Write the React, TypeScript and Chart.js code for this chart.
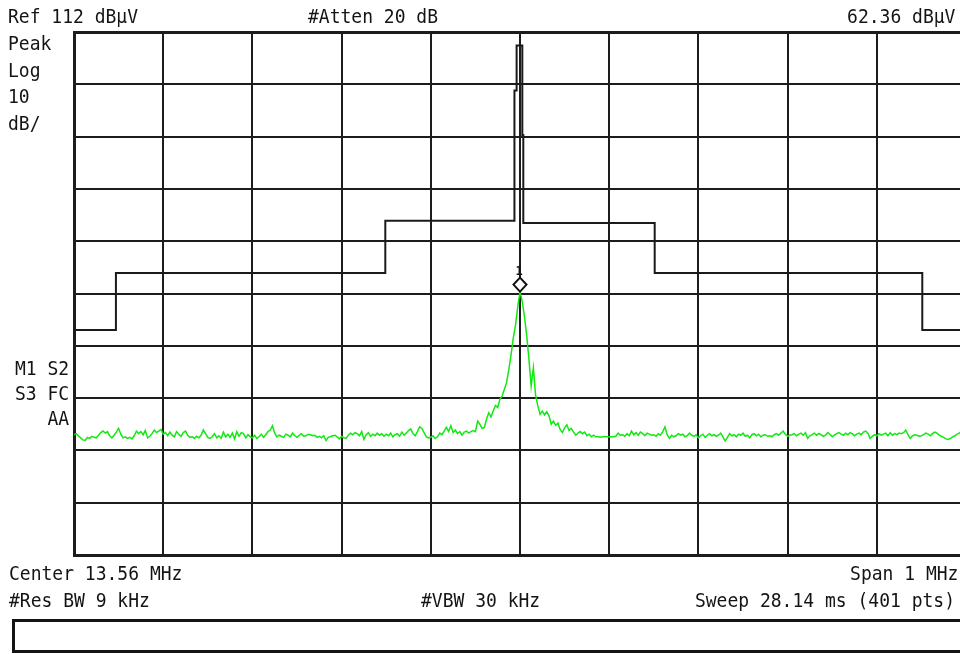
import React, { useEffect, useRef } from "react";
import { Chart, registerables } from "chart.js";

Chart.register(...registerables);

// ---- analyzer settings ----
const centerMHz = 13.56;
const spanMHz = 1;
const refLevelDb = 112;
const dbPerDiv = 10;
const divisions = 10;
const sweepPoints = 401;

// ---- measured trace (dBµV), 401 sweep points ----
const traceDb = [
  35.0, 35.2, 34.8, 34.4, 34.0, 33.9, 34.5, 34.3, 34.7, 34.5, 34.4, 34.9, 35.4, 35.7, 35.3, 35.6, 34.8, 34.4, 34.9, 35.5,
  36.2, 35.1, 34.4, 34.6, 34.3, 34.5, 34.2, 34.8, 35.7, 35.2, 35.6, 35.0, 35.8, 34.4, 34.7, 35.2, 35.9, 35.4, 35.7, 36.0,
  35.1, 35.4, 34.8, 35.5, 34.9, 34.6, 35.6, 35.1, 34.7, 35.4, 35.7, 34.9, 34.5, 34.6, 34.3, 34.7, 34.4, 34.9, 35.9, 35.2,
  34.5, 34.3, 34.6, 35.2, 34.4, 34.8, 34.3, 35.5, 34.6, 35.1, 34.5, 35.3, 34.2, 35.6, 34.7, 35.4, 35.2, 34.4, 35.0, 34.6,
  34.4, 34.9, 34.3, 34.6, 35.1, 34.5, 35.0, 35.6, 35.9, 36.7, 35.3, 34.6, 34.9, 34.7, 34.5, 35.1, 34.9, 34.6, 35.3, 34.8,
  34.5, 34.9, 35.2, 34.7, 34.8, 35.1, 35.0, 34.8, 34.9, 34.5, 34.7, 34.4, 34.8, 33.9, 34.5, 34.6, 34.8, 34.9, 34.6, 34.2,
  34.7, 34.4, 34.3, 34.9, 35.3, 35.0, 35.4, 35.2, 34.8, 35.6, 34.1, 35.0, 35.4, 34.7, 35.1, 34.8, 35.3, 34.9, 35.2, 34.7,
  35.1, 34.8, 35.3, 34.6, 35.0, 35.2, 34.7, 35.5, 34.9, 35.3, 35.8, 36.1, 35.2, 34.8, 35.6, 36.5, 36.2, 35.4, 34.6, 34.4,
  34.5, 34.8, 34.3, 34.6, 35.3, 35.0, 35.7, 36.4, 35.6, 36.7, 35.4, 35.9, 35.2, 35.6, 34.9, 35.5, 35.7, 35.3, 35.6, 35.8,
  35.6, 37.6, 37.0, 36.2, 36.4, 38.0, 39.2, 38.4, 39.6, 40.6, 40.2, 41.8, 42.4, 43.7, 45.0, 47.5, 50.3, 53.5, 56.0, 59.5, 62.36,
  60.5, 57.6, 54.0, 49.5, 44.3, 47.8, 42.5, 40.5, 38.9, 39.5, 38.8, 39.4, 38.6, 37.0, 37.6, 36.8, 37.2, 36.0, 35.4, 36.3,
  36.9, 35.8, 36.2, 35.5, 34.9, 35.3, 35.6, 35.2, 35.5, 34.8, 35.1, 34.6, 34.9, 34.6, 34.6, 34.5, 34.6, 34.6, 34.6, 34.6,
  34.6, 34.6, 34.7, 35.3, 34.9, 35.0, 34.7, 35.2, 34.8, 35.7, 35.0, 35.4, 34.9, 35.5, 35.2, 34.8, 35.3, 35.1, 34.9, 35.0,
  34.7, 35.2, 34.9, 35.6, 36.5, 35.0, 34.3, 34.9, 34.6, 34.8, 35.2, 34.9, 35.1, 34.6, 34.8, 35.3, 34.9, 34.7, 35.0, 34.4,
  34.8, 35.1, 34.5, 34.9, 35.2, 34.8, 35.0, 34.7, 34.9, 35.3, 34.6, 33.8, 34.5, 35.2, 34.8, 35.0, 34.6, 35.1, 34.9, 35.3,
  34.7, 34.9, 34.4, 35.0, 35.2, 34.8, 35.1, 34.6, 34.9, 35.0, 34.7, 34.8, 34.6, 35.0, 35.2, 34.9, 35.3, 35.7, 35.1, 34.7,
  34.9, 35.0, 35.2, 34.8, 35.1, 35.3, 34.9, 35.4, 34.3, 34.8, 35.0, 35.3, 34.9, 35.2, 35.0, 34.7, 34.9, 35.4, 35.1, 34.6,
  34.9, 35.2, 35.4, 35.1, 34.9, 35.3, 35.0, 35.4, 35.2, 34.8, 35.1, 35.3, 35.0, 35.5, 35.7, 35.3, 34.3, 34.7, 35.0, 34.8,
  35.2, 34.9, 35.1, 35.3, 34.8, 35.4, 34.9, 35.2, 35.0, 35.3, 35.2, 35.4, 35.9, 35.0, 34.3, 34.8, 35.0, 34.9, 34.7, 34.8,
  35.0, 35.3, 35.1, 34.8, 35.2, 35.5, 35.3, 34.9, 34.7, 34.5, 34.2, 34.1, 34.3, 34.6, 34.8, 35.1, 35.3, 35.7, 35.5, 35.3, 35.6,
];

// ---- limit line (MHz, dBµV) ----
const limitMHz = [
  13.06, 13.107, 13.107, 13.409, 13.409, 13.5533, 13.5533, 13.554, 13.554, 13.5562,
  13.5562, 13.5626, 13.5626, 13.5637, 13.5637, 13.711, 13.711, 14.011, 14.011, 14.06,
];
const limitDb = [
  55.0, 55.0, 65.9, 65.9, 75.9, 75.9, 84.4, 84.4, 100.8, 100.8,
  109.4, 109.4, 92.3, 92.3, 75.5, 75.5, 65.9, 65.9, 55.0, 55.0,
];

// ---- marker ----
const markerIndex = 200;
const markerLabel = "1";

// ---- grid ticks ----
const yTicks = [12, 22, 32, 42, 52, 62, 72, 82, 92, 102, 112];
const xTicks = [13.06, 13.16, 13.26, 13.36, 13.46, 13.56, 13.66, 13.76, 13.86, 13.96, 14.06];

const startMHz = centerMHz - spanMHz / 2;
const stopMHz = centerMHz + spanMHz / 2;
const bottomDb = refLevelDb - dbPerDiv * divisions;

const gridColor = "#1c1c1c";

const markerPlugin = {
  id: "markerPlugin",
  afterDatasetsDraw(chart: any) {
    const { ctx, scales } = chart;
    const f = startMHz + (markerIndex * spanMHz) / (sweepPoints - 1);
    const px = scales.x.getPixelForValue(f);
    const py = scales.y.getPixelForValue(traceDb[markerIndex]);
    ctx.save();
    ctx.beginPath();
    ctx.moveTo(px, py);
    ctx.lineTo(px + 6.5, py - 7);
    ctx.lineTo(px, py - 14);
    ctx.lineTo(px - 6.5, py - 7);
    ctx.closePath();
    ctx.fillStyle = "#ffffff";
    ctx.fill();
    ctx.strokeStyle = "#111111";
    ctx.lineWidth = 2;
    ctx.stroke();
    ctx.fillStyle = "#111111";
    ctx.font = 'bold 12px "DejaVu Sans Mono"';
    ctx.textAlign = "center";
    ctx.textBaseline = "alphabetic";
    ctx.fillText(markerLabel, px - 1, py - 17);
    ctx.restore();
  },
};

function ChartCanvas() {
  const ref = useRef<HTMLCanvasElement | null>(null);
  useEffect(() => {
    if (!ref.current) return;
    const traceData = traceDb.map((v, i) => ({
      x: startMHz + (i * spanMHz) / (sweepPoints - 1),
      y: v,
    }));
    const limitData = limitMHz.map((f, i) => ({ x: f, y: limitDb[i] }));
    const chart = new Chart(ref.current, {
      type: "line",
      data: {
        datasets: [
          {
            label: "Limit",
            data: limitData,
            borderColor: "#1a1a1a",
            borderWidth: 2,
            pointRadius: 0,
            tension: 0,
            fill: false,
          },
          {
            label: "Trace",
            data: traceData,
            borderColor: "#12e812",
            borderWidth: 1.5,
            pointRadius: 0,
            tension: 0,
            fill: false,
          },
        ],
      },
      options: {
        animation: false,
        responsive: true,
        maintainAspectRatio: false,
        parsing: false,
        normalized: true,
        layout: { padding: { left: 74, top: 32, right: 14, bottom: 99 } },
        plugins: { legend: { display: false }, tooltip: { enabled: false }, title: { display: false } },
        events: [],
        scales: {
          x: {
            type: "linear",
            min: startMHz,
            max: stopMHz,
            afterBuildTicks: (s: any) => {
              s.ticks = xTicks.map((v) => ({ value: v }));
            },
            afterFit: (s: any) => {
              s.height = 0;
            },
            ticks: { display: false },
            grid: { color: gridColor, lineWidth: 2, drawTicks: false },
            border: { display: true, color: gridColor, width: 3 },
          },
          y: {
            type: "linear",
            min: bottomDb,
            max: refLevelDb,
            afterBuildTicks: (s: any) => {
              s.ticks = yTicks.map((v) => ({ value: v }));
            },
            afterFit: (s: any) => {
              s.width = 0;
            },
            ticks: { display: false },
            grid: {
              color: gridColor,
              lineWidth: (c: any) => (c.tick && c.tick.value === refLevelDb ? 3 : 2),
              drawTicks: false,
            },
            border: { display: true, color: gridColor, width: 3 },
          },
        },
      },
      plugins: [markerPlugin],
    });
    return () => chart.destroy();
  }, []);
  return <canvas ref={ref} />;
}

const baseText: React.CSSProperties = {
  position: "absolute",
  fontFamily: '"DejaVu Sans Mono", monospace',
  fontSize: 20,
  lineHeight: "20px",
  whiteSpace: "pre",
  color: "#141414",
};

function L(props: { x: number; capTop: number; text: string }) {
  return (
    <span
      style={{
        ...baseText,
        left: props.x,
        top: props.capTop - 2.3,
        transform: "scaleX(0.9)",
        transformOrigin: "left top",
      }}
    >
      {props.text}
    </span>
  );
}

function R(props: { right: number; capTop: number; text: string }) {
  return (
    <span
      style={{
        ...baseText,
        right: 960 - props.right,
        top: props.capTop - 2.3,
        transform: "scaleX(0.9)",
        transformOrigin: "right top",
      }}
    >
      {props.text}
    </span>
  );
}

export default function App() {
  return (
    <div
      style={{
        position: "absolute",
        left: 0,
        top: 0,
        width: 960,
        height: 654,
        overflow: "hidden",
        background: "#ffffff",
      }}
    >
      <div style={{ position: "absolute", left: 0, top: 0, width: 980, height: 654 }}>
        <ChartCanvas />
      </div>
      <L x={8} capTop={8} text="Ref 112 dBµV" />
      <L x={308} capTop={8} text="#Atten 20 dB" />
      <R right={955} capTop={8} text="62.36 dBµV" />
      <L x={8} capTop={35} text="Peak" />
      <L x={8} capTop={62} text="Log" />
      <L x={8} capTop={88} text="10" />
      <L x={8} capTop={115} text="dB/" />
      <R right={69} capTop={360} text="M1 S2" />
      <R right={69} capTop={385} text="S3 FC" />
      <R right={69} capTop={410} text="AA" />
      <L x={9} capTop={565} text="Center 13.56 MHz" />
      <L x={9} capTop={592} text="#Res BW 9 kHz" />
      <L x={421} capTop={592} text="#VBW 30 kHz" />
      <R right={958} capTop={565} text="Span 1 MHz" />
      <R right={955} capTop={592} text="Sweep 28.14 ms (401 pts)" />
      <div
        style={{
          position: "absolute",
          left: 12,
          top: 619,
          width: 970,
          height: 34,
          border: "3px solid #141414",
          boxSizing: "border-box",
        }}
      />
    </div>
  );
}
